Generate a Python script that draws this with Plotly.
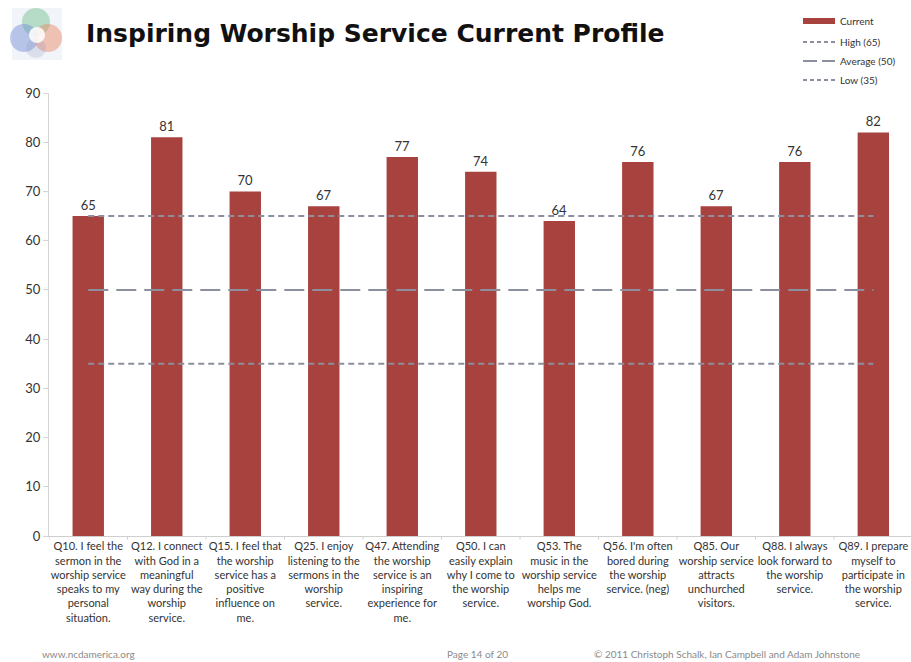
import plotly.graph_objects as go

questions = [
    "Q10. I feel the<br>sermon in the<br>worship service<br>speaks to my<br>personal<br>situation.",
    "Q12. I connect<br>with God in a<br>meaningful<br>way during the<br>worship<br>service.",
    "Q15. I feel that<br>the worship<br>service has a<br>positive<br>influence on<br>me.",
    "Q25. I enjoy<br>listening to the<br>sermons in the<br>worship<br>service.",
    "Q47. Attending<br>the worship<br>service is an<br>inspiring<br>experience for<br>me.",
    "Q50. I can<br>easily explain<br>why I come to<br>the worship<br>service.",
    "Q53. The<br>music in the<br>worship service<br>helps me<br>worship God.",
    "Q56. I'm often<br>bored during<br>the worship<br>service. (neg)",
    "Q85. Our<br>worship service<br>attracts<br>unchurched<br>visitors.",
    "Q88. I always<br>look forward to<br>the worship<br>service.",
    "Q89. I prepare<br>myself to<br>participate in<br>the worship<br>service.",
]
current = [65, 81, 70, 67, 77, 74, 64, 76, 67, 76, 82]
high_level = 65
average_level = 50
low_level = 35
y_ticks = [0, 10, 20, 30, 40, 50, 60, 70, 80, 90]

BAR = "#A8423E"
REF = "#8C8F9E"
TXT = "#333333"
FONT = "Lato"

x_idx = list(range(len(questions)))

fig = go.Figure()
fig.add_trace(go.Bar(
    x=x_idx, y=current, width=0.4, marker=dict(color=BAR, line=dict(width=0)),
    text=[str(v) for v in current], textposition="outside",
    textfont=dict(family=FONT, size=13, color=TXT), cliponaxis=False,
    showlegend=False, name="Current",
))
for lvl, dash, name in [(high_level, "6px,4px", "High"),
                        (average_level, "20px,8px", "Average"),
                        (low_level, "6px,4px", "Low")]:
    fig.add_trace(go.Scatter(
        x=[x_idx[0], x_idx[-1]], y=[lvl, lvl], mode="lines",
        line=dict(color=REF, width=2, dash=dash), showlegend=False, name=name,
        hoverinfo="skip",
    ))

# Elements positioned in page pixels, converted to paper coordinates below
shapes_px = []
annotations_px = []

# Logo: soft square with overlapping translucent colour blobs
shapes_px.append(dict(type="rect", x0=12, x1=62, y0=8, y1=60,
                      fillcolor="rgba(225,230,240,0.45)", line=dict(width=0)))
for (cx, cy, r, col) in [(36, 22, 14, "rgba(110,190,140,0.45)"),
                         (24, 38, 14, "rgba(110,140,210,0.45)"),
                         (48, 38, 14, "rgba(235,130,95,0.45)"),
                         (36, 48, 10, "rgba(150,150,200,0.25)"),
                         (37, 35, 8, "rgba(255,255,255,0.85)")]:
    shapes_px.append(dict(type="circle", x0=cx - r, x1=cx + r, y0=cy - r, y1=cy + r,
                          fillcolor=col, line=dict(width=0)))

# Legend
leg_x = 803
leg_items = [
    (21, "Current", None),
    (42, "High (65)", "4px,3px"),
    (61, "Average (50)", "14px,5px"),
    (80, "Low (35)", "4px,3px"),
]
for y, label, dash in leg_items:
    if dash is None:
        shapes_px.append(dict(type="rect", x0=leg_x, x1=leg_x + 32, y0=y - 3, y1=y + 3,
                              fillcolor=BAR, line=dict(width=0)))
    else:
        shapes_px.append(dict(type="line", x0=leg_x, x1=leg_x + 32, y0=y, y1=y,
                              line=dict(color=REF, width=2, dash=dash)))
    annotations_px.append(dict(px=leg_x + 35, py=y, text=label, xanchor="left",
                               font=dict(family=FONT, size=10, color=TXT)))

# Footer
for xpos, text in [(40, "www.ncdamerica.org"), (445, "Page 14 of 20"),
                   (592, "© 2011 Christoph Schalk, Ian Campbell and Adam Johnstone")]:
    annotations_px.append(dict(px=xpos, py=654, text=text, xanchor="left",
                               font=dict(family=FONT, size=10, color="#8a8a8a")))

# Title
annotations_px.append(dict(px=84, py=33, text="<b>Inspiring Worship Service Current Profile</b>",
                           xanchor="left",
                           font=dict(family="DejaVu Sans", size=25, color="#111111")))

W, H = 911, 662
ml, mr, mt, mb = 49, 0, 93, 126
pw, ph = W - ml - mr, H - mt - mb


def to_px_x(px):
    return (px - ml) / pw


def to_px_y(py):
    return (H - mb - py) / ph


annotations = []
for a in annotations_px:
    annotations.append(dict(xref="paper", yref="paper", x=to_px_x(a["px"]), y=to_px_y(a["py"]),
                            text=a["text"], showarrow=False, xanchor=a["xanchor"],
                            yanchor="middle", font=a["font"]))
shapes = []
for s in shapes_px:
    s = dict(s)
    s.update(xref="paper", yref="paper",
             x0=to_px_x(s["x0"]), x1=to_px_x(s["x1"]),
             y0=to_px_y(s["y0"]), y1=to_px_y(s["y1"]))
    shapes.append(s)

# small separator ticks between categories on the x axis
for i in range(len(questions) + 1):
    shapes.append(dict(type="line", xref="x", yref="paper", x0=i - 0.5, x1=i - 0.5,
                       y0=0, y1=-0.008, line=dict(color="#cfcfcf", width=1)))

fig.update_layout(
    width=W, height=H,
    margin=dict(l=ml, r=mr, t=mt, b=mb),
    paper_bgcolor="white", plot_bgcolor="white",
    shapes=shapes, annotations=annotations,
    xaxis=dict(tickmode="array", tickvals=x_idx, ticktext=questions, range=[-0.5, 10.48],
               tickfont=dict(family=FONT, size=11, color=TXT), showgrid=False,
               showline=True, linecolor="#cfcfcf", linewidth=1, ticks="", zeroline=False,
               tickangle=0),
    yaxis=dict(range=[0, 90], tickvals=y_ticks, showgrid=False, zeroline=False,
               showline=True, linecolor="#d5d5d5", linewidth=1, ticks="outside",
               ticklen=5, tickcolor="#d5d5d5",
               tickfont=dict(family=FONT, size=13, color=TXT)),
)

fig.write_html("out.html")
